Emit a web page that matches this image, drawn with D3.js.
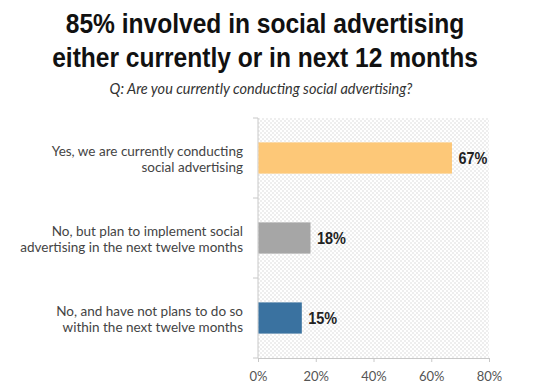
<!DOCTYPE html>
<html>
<head>
<meta charset="utf-8">
<title>Social advertising</title>
<script src="https://cdnjs.cloudflare.com/ajax/libs/d3/7.8.5/d3.min.js"></script>
<style>
  body { margin: 0; background: #fff; }
  .title { font-family: "Liberation Sans", Arial, sans-serif; font-weight: bold; font-size: 27px; fill: #111; }
  .sub { font-family: Lato, "Open Sans", sans-serif; font-style: italic; font-size: 14.5px; fill: #333; }
  .cat { font-family: Lato, "Open Sans", sans-serif; font-size: 13.5px; fill: #444; }
  .val { font-family: "Liberation Sans", Arial, sans-serif; font-weight: bold; font-size: 17px; fill: #222; }
  .xaxis text { font-family: Lato, "Open Sans", sans-serif; font-size: 13px; fill: #555; }
</style>
</head>
<body>
<div id="chart"></div>
<script>
// chart values
var titleLines = ["85% involved in social advertising", "either currently or in next 12 months"];
var subtitle = "Q: Are you currently conducting social advertising?";
var categories = [
  ["Yes, we are currently conducting", "social advertising"],
  ["No, but plan to implement social", "advertising in the next twelve months"],
  ["No, and have not plans to do so", "within the next twelve months"]
];
var values = [67, 18, 15];
var barColors = ["#FDC878", "#A6A6A6", "#3A72A0"];
var xTicks = [0, 20, 40, 60, 80];

var W = 534, H = 392;
var margin = {left: 258, right: 45, top: 118, bottom: 34};

var svg = d3.select("#chart").append("svg")
    .attr("width", W).attr("height", H);

// dotted background pattern
var pat = svg.append("defs").append("pattern")
    .attr("id", "dots").attr("width", 4).attr("height", 4)
    .attr("patternUnits", "userSpaceOnUse");
pat.append("rect").attr("width", 4).attr("height", 4).attr("fill", "#fff");
pat.append("circle").attr("cx", 1).attr("cy", 1).attr("r", 0.75).attr("fill", "#d6d6d6");
pat.append("circle").attr("cx", 3).attr("cy", 3).attr("r", 0.75).attr("fill", "#d6d6d6");

// titles (condensed look by squeezing horizontally)
svg.selectAll("text.title").data(titleLines).enter().append("text")
    .attr("class", "title")
    .attr("transform", function(d, i) { return "translate(265," + (33 + i * 34) + ") scale(0.91,1)"; })
    .attr("text-anchor", "middle")
    .text(function(d) { return d; });

svg.append("text").attr("class", "sub")
    .attr("x", 261).attr("y", 94)
    .attr("text-anchor", "middle")
    .text(subtitle);

var x = d3.scaleLinear().domain([0, 80]).range([margin.left, W - margin.right]);
var y = d3.scaleBand().domain(d3.range(categories.length))
    .range([margin.top, H - margin.bottom]).paddingInner(0.61).paddingOuter(0.305);

var plotBottom = H - margin.bottom;

svg.append("rect")
    .attr("x", x(0)).attr("y", margin.top)
    .attr("width", x(80) - x(0)).attr("height", plotBottom - margin.top)
    .attr("fill", "url(#dots)");

// left axis line with ticks between categories
var step = (plotBottom - margin.top) / categories.length;
svg.append("line")
    .attr("x1", x(0)).attr("x2", x(0))
    .attr("y1", margin.top).attr("y2", plotBottom)
    .attr("stroke", "#c8c8c8").attr("stroke-width", 1);
svg.selectAll("line.ytick").data(d3.range(categories.length + 1)).enter().append("line")
    .attr("class", "ytick")
    .attr("x1", x(0) - 5).attr("x2", x(0))
    .attr("y1", function(i) { return margin.top + i * step; })
    .attr("y2", function(i) { return margin.top + i * step; })
    .attr("stroke", "#c8c8c8");

// x axis
var xAxis = svg.append("g").attr("class", "xaxis")
    .attr("transform", "translate(0," + plotBottom + ")")
    .call(d3.axisBottom(x).tickValues(xTicks).tickSize(4).tickPadding(10)
        .tickFormat(function(d) { return d + "%"; }));
xAxis.select(".domain").attr("stroke", "#c8c8c8");
xAxis.selectAll(".tick line").attr("stroke", "#c8c8c8");

// bars
svg.selectAll("rect.bar").data(values).enter().append("rect")
    .attr("class", "bar")
    .attr("x", x(0) + 0.5)
    .attr("y", function(d, i) { return y(i); })
    .attr("width", function(d) { return x(d) - x(0); })
    .attr("height", y.bandwidth())
    .attr("fill", function(d, i) { return barColors[i]; });

// value labels
svg.selectAll("text.val").data(values).enter().append("text")
    .attr("class", "val")
    .attr("transform", function(d, i) {
        return "translate(" + (x(d) + 7) + "," + (y(i) + y.bandwidth() / 2 + 6) + ") scale(0.85,1)";
    })
    .text(function(d) { return d + "%"; });

// category labels
var cat = svg.selectAll("text.cat").data(categories).enter().append("text")
    .attr("class", "cat")
    .attr("text-anchor", "end")
    .attr("x", 243)
    .attr("y", function(d, i) { return y(i) + y.bandwidth() / 2 - 2; });
cat.selectAll("tspan").data(function(d) { return d; }).enter().append("tspan")
    .attr("x", 243)
    .attr("dy", function(d, j) { return j === 0 ? 0 : 16; })
    .text(function(d) { return d; });
</script>
</body>
</html>
